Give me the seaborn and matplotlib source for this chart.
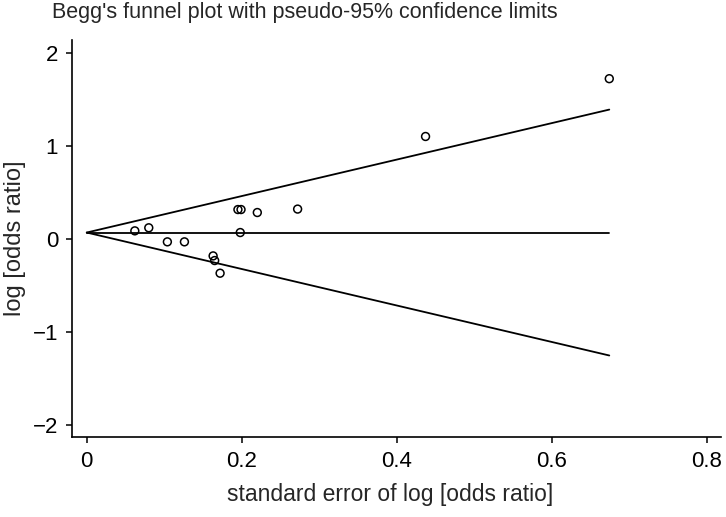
import matplotlib
matplotlib.use("Agg")
import matplotlib.pyplot as plt
import seaborn as sns
import pandas as pd

# study standard errors and log odds ratios
se = [0.062, 0.080, 0.104, 0.126, 0.163, 0.165, 0.172, 0.195, 0.199, 0.198, 0.220, 0.272, 0.437, 0.674]
log_or = [0.089, 0.122, -0.029, -0.029, -0.18, -0.23, -0.366, 0.318, 0.318, 0.071, 0.286, 0.323, 1.103, 1.724]
pooled = 0.071
x_ticks = [0, 0.2, 0.4, 0.6, 0.8]
y_ticks = [-2, -1, 0, 1, 2]

sns.set_style("white")
plt.rcParams['font.family'] = ['Liberation Sans', 'DejaVu Sans']

studies = pd.DataFrame({"se": se, "log_or": log_or})

# pseudo 95% limits drawn through the study se values
lim_se = [0.0] + sorted(se)
limits = pd.DataFrame({
    "se": lim_se,
    "upper": [pooled + 1.96 * s for s in lim_se],
    "lower": [pooled - 1.96 * s for s in lim_se],
    "mid": [pooled for s in lim_se],
})

fig = plt.figure(figsize=(7.26, 5.17), dpi=100)
ax = fig.add_axes([0.0992, 0.1547, 0.8938, 0.768])

for col in ["upper", "mid", "lower"]:
    sns.lineplot(data=limits, x="se", y=col, ax=ax, color="black",
                 linewidth=1.3, estimator=None, sort=False)
sns.scatterplot(data=studies, x="se", y="log_or", ax=ax, marker="o",
                s=32, facecolor="none", edgecolor="black", linewidth=1.1, zorder=3)

ax.set_xlim(-0.019, 0.818)
ax.set_ylim(-2.126, 2.14)
ax.set_xticks(x_ticks)
ax.set_xticklabels(["0", "0.2", "0.4", "0.6", "0.8"])
ax.set_yticks(y_ticks)
ax.set_yticklabels(["\u22122", "\u22121", "0", "1", "2"])
ax.tick_params(direction="out", length=4, width=1.1, colors="black",
               labelsize=16, pad=6, left=True, bottom=True)
for side in ["top", "right"]:
    ax.spines[side].set_visible(False)
for side in ["left", "bottom"]:
    ax.spines[side].set_color("black")
    ax.spines[side].set_linewidth(1.2)

ax.set_xlabel("standard error of log [odds ratio]", fontsize=16.5)
ax.xaxis.set_label_coords(0.49, -0.146)
ax.set_ylabel("log [odds ratio]", fontsize=17)
ax.yaxis.set_label_coords(-0.088, 0.5)
ax.xaxis.label.set_va("center")
ax.yaxis.label.set_va("center")
fig.text(0.072, 0.975, "Begg's funnel plot with pseudo-95% confidence limits",
         fontsize=15.5, ha="left", va="center")

fig.savefig("out.png", dpi=100)
